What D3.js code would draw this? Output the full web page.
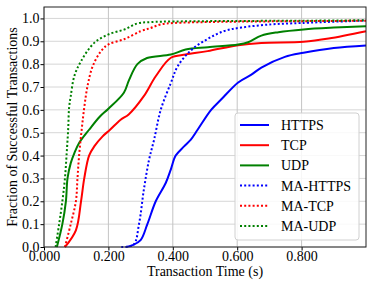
<!DOCTYPE html>
<html>
<head>
<meta charset="utf-8">
<script src="https://cdn.jsdelivr.net/npm/d3@7"></script>
<style>
  body { margin: 0; background: #fff; }
  svg text { font-family: "Liberation Serif", "Times New Roman", serif; fill: #000; }
</style>
</head>
<body>
<svg id="chart" width="374" height="287"></svg>
<script>
// series names, in legend order
var seriesNames = ["HTTPS", "TCP", "UDP", "MA-HTTPS", "MA-TCP", "MA-UDP"];
var seriesColors = ["#0000ff", "#ff0000", "#008000", "#0000ff", "#ff0000", "#008000"];
var seriesDotted = [false, false, false, true, true, true];

// transaction time (s) and CDF value for each series
var httpsT = [0.255, 0.275, 0.3, 0.321, 0.347, 0.378, 0.394, 0.409, 0.435, 0.456, 0.477, 0.519, 0.55, 0.603, 0.644, 0.675, 0.748, 0.806, 0.9, 1.0];
var httpsV = [0, 0.008, 0.03, 0.1, 0.2, 0.28, 0.34, 0.4, 0.44, 0.47, 0.513, 0.6, 0.645, 0.72, 0.754, 0.785, 0.832, 0.85, 0.871, 0.882];

var tcpT = [0.065, 0.099, 0.115, 0.125, 0.14, 0.156, 0.182, 0.205, 0.238, 0.263, 0.31, 0.347, 0.394, 0.44, 0.508, 0.603, 0.675, 0.806, 0.884, 1.0];
var tcpV = [0, 0.073, 0.2, 0.3, 0.4, 0.44, 0.484, 0.513, 0.557, 0.58, 0.66, 0.747, 0.828, 0.842, 0.857, 0.883, 0.893, 0.898, 0.912, 0.944];

var udpT = [0.04, 0.057, 0.068, 0.073, 0.083, 0.094, 0.109, 0.14, 0.173, 0.2, 0.248, 0.264, 0.29, 0.32, 0.394, 0.44, 0.509, 0.603, 0.634, 0.675, 0.728, 0.806, 0.9, 1.0];
var udpV = [0, 0.1, 0.2, 0.3, 0.367, 0.41, 0.455, 0.513, 0.57, 0.605, 0.675, 0.73, 0.8, 0.827, 0.842, 0.864, 0.874, 0.886, 0.896, 0.925, 0.94, 0.952, 0.96, 0.966];

var maHttpsT = [0.24, 0.278, 0.295, 0.31, 0.326, 0.342, 0.3625, 0.394, 0.415, 0.456, 0.508, 0.56, 0.6125, 0.706, 0.8, 1.0];
var maHttpsV = [0, 0.01, 0.1, 0.25, 0.38, 0.47, 0.6, 0.718, 0.79, 0.86, 0.91, 0.945, 0.96, 0.974, 0.98, 0.991];

var maTcpT = [0.065, 0.083, 0.099, 0.104, 0.109, 0.117, 0.125, 0.135, 0.151, 0.177, 0.2, 0.25, 0.3, 0.331, 0.3625, 0.404, 0.5, 0.6, 0.8, 1.0];
var maTcpV = [0, 0.1, 0.2, 0.3, 0.4, 0.513, 0.61, 0.703, 0.79, 0.857, 0.886, 0.91, 0.944, 0.958, 0.974, 0.98, 0.984, 0.986, 0.988, 0.99];

var maUdpT = [0.036, 0.047, 0.057, 0.065, 0.07, 0.075, 0.078, 0.083, 0.094, 0.115, 0.156, 0.2, 0.25, 0.29, 0.331, 0.5, 0.8, 1.0];
var maUdpV = [0, 0.1, 0.2, 0.3, 0.4, 0.513, 0.61, 0.66, 0.747, 0.813, 0.893, 0.93, 0.952, 0.978, 0.984, 0.988, 0.99, 0.992];

var xTicks = [0, 0.2, 0.4, 0.6, 0.8];
var yTicks = [0, 0.1, 0.2, 0.3, 0.4, 0.5, 0.6, 0.7, 0.8, 0.9, 1.0];

var seriesT = [httpsT, tcpT, udpT, maHttpsT, maTcpT, maUdpT];
var seriesV = [httpsV, tcpV, udpV, maHttpsV, maTcpV, maUdpV];

var svg = d3.select("#chart");
var plotLeft = 44, plotRight = 366, plotTop = 7, plotBottom = 247;

var x = d3.scaleLinear().domain([0, 1.0]).range([plotLeft, plotRight]);
var y = d3.scaleLinear().domain([0, 1.05]).range([plotBottom, plotTop]);

// grid
svg.append("g").selectAll("line")
    .data(yTicks)
    .enter().append("line")
    .attr("x1", plotLeft).attr("x2", plotRight)
    .attr("y1", function(d) { return y(d); })
    .attr("y2", function(d) { return y(d); })
    .attr("stroke", "#d6d6d6").attr("stroke-width", 1);

svg.append("g").selectAll("line")
    .data(xTicks)
    .enter().append("line")
    .attr("y1", plotTop).attr("y2", plotBottom)
    .attr("x1", function(d) { return x(d); })
    .attr("x2", function(d) { return x(d); })
    .attr("stroke", "#c4c4c4").attr("stroke-width", 1);

// curves
var line = d3.line()
    .x(function(d) { return x(d[0]); })
    .y(function(d) { return y(d[1]); })
    .curve(d3.curveCatmullRom.alpha(0.5));

var plot = svg.append("g");
seriesNames.forEach(function(name, i) {
  var pts = d3.zip(seriesT[i], seriesV[i]);
  plot.append("path")
      .datum(pts)
      .attr("d", line)
      .attr("fill", "none")
      .attr("stroke", seriesColors[i])
      .attr("stroke-width", 2)
      .attr("stroke-dasharray", seriesDotted[i] ? "2,2.2" : null);
});

// axes
var xAxis = d3.axisBottom(x).tickValues(xTicks).tickFormat(d3.format(".3f")).tickSize(3.5).tickPadding(1);
var yAxis = d3.axisLeft(y).tickValues(yTicks).tickFormat(d3.format(".1f")).tickSize(3.5).tickPadding(1);

var gx = svg.append("g").attr("transform", "translate(0," + plotBottom + ")").call(xAxis);
var gy = svg.append("g").attr("transform", "translate(" + plotLeft + ",0)").call(yAxis);
[gx, gy].forEach(function(g) {
  g.select(".domain").remove();
  g.selectAll("text").style("font-size", "14px").style("font-family", "'Liberation Serif', serif");
  g.selectAll("line").attr("stroke", "#000");
});

svg.append("rect")
    .attr("x", plotLeft).attr("y", plotTop)
    .attr("width", plotRight - plotLeft).attr("height", plotBottom - plotTop)
    .attr("fill", "none").attr("stroke", "#222").attr("stroke-width", 1);

// labels
svg.append("text")
    .attr("x", (plotLeft + plotRight) / 2).attr("y", 276)
    .attr("text-anchor", "middle")
    .style("font-size", "14px")
    .text("Transaction Time (s)");

svg.append("text")
    .attr("transform", "translate(17," + (plotTop + plotBottom) / 2 + ") rotate(-90)")
    .attr("text-anchor", "middle")
    .style("font-size", "14px")
    .text("Fraction of Successful Transactions");

// legend
var legend = svg.append("g");
legend.append("rect")
    .attr("x", 235).attr("y", 113)
    .attr("width", 124).attr("height", 127)
    .attr("rx", 3)
    .attr("fill", "#fff").attr("fill-opacity", 0.85)
    .attr("stroke", "#d0d0d0");

seriesNames.forEach(function(name, i) {
  var ly = 125 + i * 20.2;
  legend.append("line")
      .attr("x1", 240).attr("x2", 269)
      .attr("y1", ly).attr("y2", ly)
      .attr("stroke", seriesColors[i])
      .attr("stroke-width", 2)
      .attr("stroke-dasharray", seriesDotted[i] ? "2,2.2" : null);
  legend.append("text")
      .attr("x", 281).attr("y", ly + 5)
      .style("font-size", "14px")
      .text(name);
});
</script>
</body>
</html>
